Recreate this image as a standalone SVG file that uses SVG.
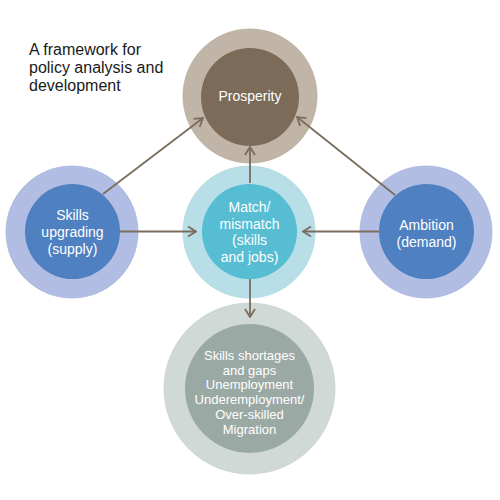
<svg xmlns="http://www.w3.org/2000/svg" width="500" height="500" viewBox="0 0 500 500">
<defs>
<style>
.t{font-family:"Liberation Sans",Arial,sans-serif;font-size:14px;fill:#ffffff;text-anchor:middle}
.s{font-size:13px}
.title{font-family:"Liberation Sans",Arial,sans-serif;font-size:16px;fill:#1a1a1a}
.c{stroke:#7a6d5e;stroke-width:1.8;fill:none}
</style>
<marker id="ah" viewBox="0 0 10 12" refX="9" refY="6" markerWidth="10" markerHeight="12" markerUnits="userSpaceOnUse" orient="auto">
<path d="M1,1 L9,6 L1,11" fill="none" stroke="#7a6d5e" stroke-width="1.8"/>
</marker>
</defs>
<rect width="500" height="500" fill="#ffffff"/>
<text class="title"><tspan x="29" y="55">A framework for</tspan><tspan x="29" y="73">policy analysis and</tspan><tspan x="29" y="91">development</tspan></text>
<g id="prosperity">
<circle cx="250" cy="96" r="67" fill="#c1b5a7" stroke="#b8ac9d" stroke-width="0.8"/>
<circle cx="250" cy="97" r="49" fill="#7b6b58"/>
<text class="t" x="250" y="101">Prosperity</text>
</g>
<g id="skills-upgrading">
<circle cx="72" cy="232" r="66" fill="#b1bde2" stroke="#a8b5dc" stroke-width="0.8"/>
<circle cx="72.5" cy="231.5" r="47.5" fill="#4f80c1"/>
<text class="t"><tspan x="72.5" y="220">Skills</tspan><tspan x="72.5" y="237">upgrading</tspan><tspan x="72.5" y="254">(supply)</tspan></text>
</g>
<g id="match">
<circle cx="249" cy="232" r="66" fill="#b8dfe8" stroke="#aed8e2" stroke-width="0.8"/>
<circle cx="249.5" cy="231.5" r="47.5" fill="#56bdd3"/>
<text class="t"><tspan x="249.5" y="212">Match/</tspan><tspan x="249.5" y="228.5">mismatch</tspan><tspan x="249.5" y="245">(skills</tspan><tspan x="249.5" y="261.5">and jobs)</tspan></text>
</g>
<g id="ambition">
<circle cx="426" cy="232" r="66" fill="#b1bde2" stroke="#a8b5dc" stroke-width="0.8"/>
<circle cx="426.5" cy="231.5" r="47.5" fill="#4f80c1"/>
<text class="t"><tspan x="426.5" y="230">Ambition</tspan><tspan x="426.5" y="246.5">(demand)</tspan></text>
</g>
<g id="outcomes">
<circle cx="249.5" cy="388.5" r="85.5" fill="#d1d9d7" stroke="#c8d0cf" stroke-width="0.8"/>
<circle cx="249.5" cy="388.5" r="64.5" fill="#9ba9a5"/>
<text class="t s"><tspan x="249.5" y="360">Skills shortages</tspan><tspan x="249.5" y="374.7">and gaps</tspan><tspan x="249.5" y="389.4">Unemployment</tspan><tspan x="249.5" y="404.1">Underemployment/</tspan><tspan x="249.5" y="418.8">Over-skilled</tspan><tspan x="249.5" y="433.5">Migration</tspan></text>
</g>
<g id="connectors">
<line class="c" x1="103" y1="194" x2="203" y2="118" marker-end="url(#ah)"/>
<line class="c" x1="395" y1="195" x2="297" y2="117" marker-end="url(#ah)"/>
<line class="c" x1="250" y1="183" x2="250" y2="147" marker-end="url(#ah)"/>
<line class="c" x1="120" y1="231.5" x2="196" y2="231.5" marker-end="url(#ah)"/>
<line class="c" x1="379" y1="231.5" x2="303" y2="231.5" marker-end="url(#ah)"/>
<line class="c" x1="250" y1="279" x2="250" y2="317" marker-end="url(#ah)"/>
</g>
</svg>
